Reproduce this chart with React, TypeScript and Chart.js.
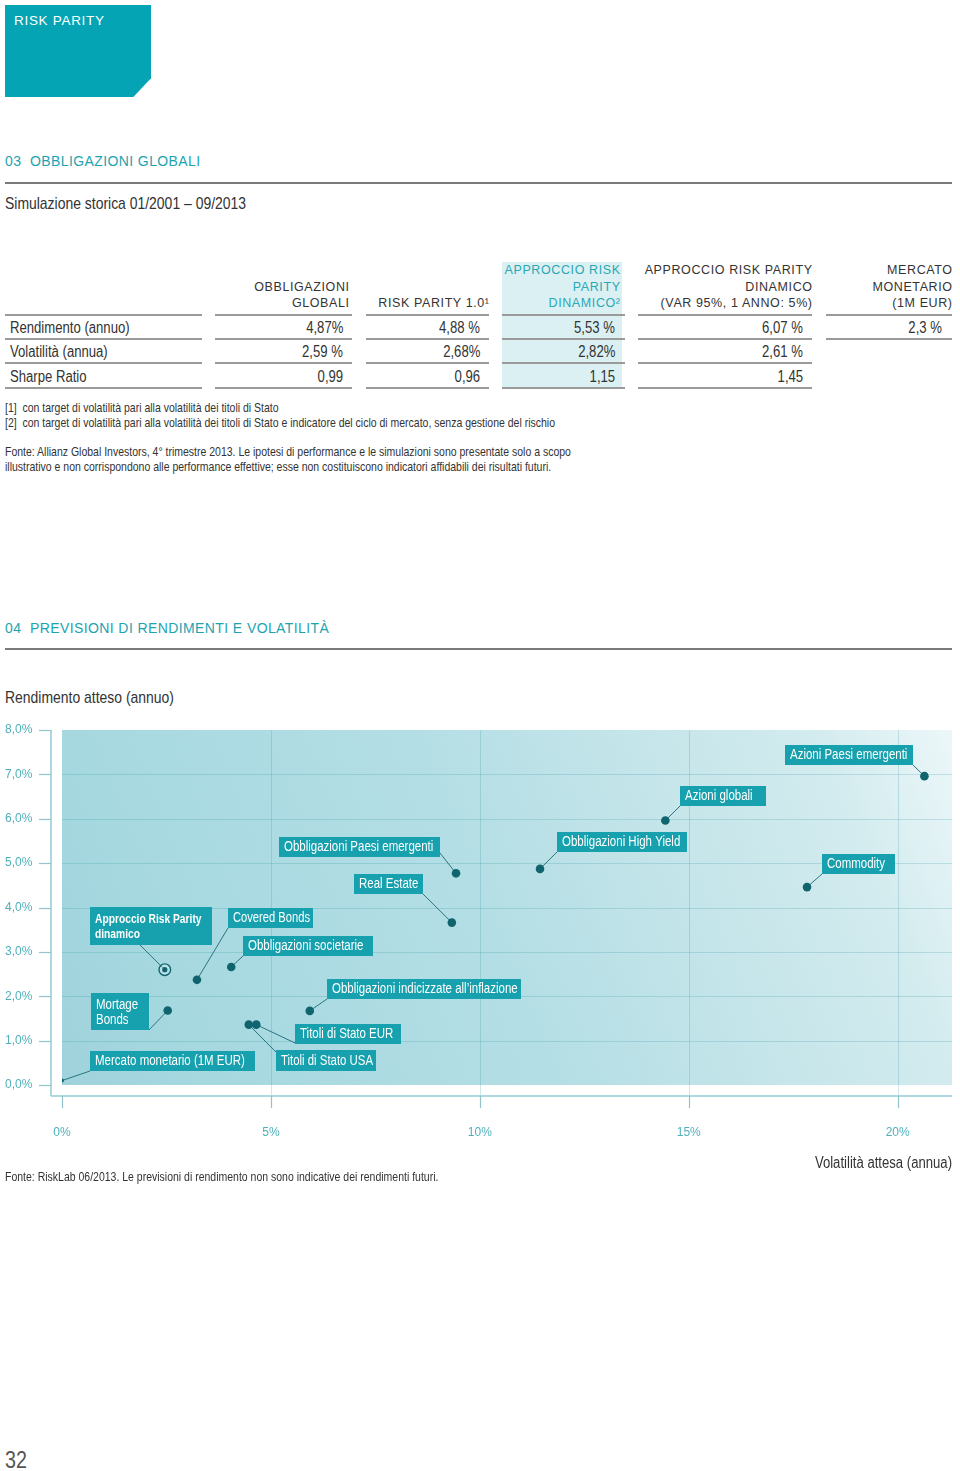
import React, { useEffect, useRef } from "react";
import { Chart, registerables } from "chart.js";

Chart.register(...registerables);

// ---------------- DATA ----------------
const assetNames = [
  "Mercato monetario (1M EUR)",
  "Approccio Risk Parity dinamico",
  "Mortage Bonds",
  "Covered Bonds",
  "Obbligazioni societarie",
  "Titoli di Stato USA",
  "Titoli di Stato EUR",
  "Obbligazioni indicizzate all’inflazione",
  "Real Estate",
  "Obbligazioni Paesi emergenti",
  "Obbligazioni High Yield",
  "Azioni globali",
  "Commodity",
  "Azioni Paesi emergenti",
];
const assetVolatility = [0.0, 2.46, 2.53, 3.23, 4.05, 4.47, 4.65, 5.93, 9.33, 9.43, 11.44, 14.44, 17.83, 20.64];
const assetReturn = [0.1, 2.6, 1.68, 2.37, 2.66, 1.36, 1.36, 1.67, 3.66, 4.77, 4.87, 5.96, 4.46, 6.96];
const assetLabelLines: string[][] = [
  ["Mercato monetario (1M EUR)"],
  ["Approccio Risk Parity", "dinamico"],
  ["Mortage", "Bonds"],
  ["Covered Bonds"],
  ["Obbligazioni societarie"],
  ["Titoli di Stato USA"],
  ["Titoli di Stato EUR"],
  ["Obbligazioni indicizzate all’inflazione"],
  ["Real Estate"],
  ["Obbligazioni Paesi emergenti"],
  ["Obbligazioni High Yield"],
  ["Azioni globali"],
  ["Commodity"],
  ["Azioni Paesi emergenti"],
];
const highlightedAsset = "Approccio Risk Parity dinamico";
const smallAsset = "Mercato monetario (1M EUR)";

const xTickValues = [0, 5, 10, 15, 20];
const yTickValues = [0, 1, 2, 3, 4, 5, 6, 7, 8];
const xMin = 0;
const xMax = 21.3;
const yMin = 0;
const yMax = 8;
const xAxisTitle = "Volatilità attesa (annua)";
const yAxisTitle = "Rendimento atteso (annuo)";

const tableHeaders: string[][] = [
  ["OBBLIGAZIONI", "GLOBALI"],
  ["RISK PARITY 1.0¹"],
  ["APPROCCIO RISK", "PARITY", "DINAMICO²"],
  ["APPROCCIO RISK PARITY", "DINAMICO", "(VAR 95%, 1 ANNO: 5%)"],
  ["MERCATO", "MONETARIO", "(1M EUR)"],
];
const tableRowLabels = ["Rendimento (annuo)", "Volatilità (annua)", "Sharpe Ratio"];
const rendimentoAnnuo = ["4,87%", "4,88 %", "5,53 %", "6,07 %", "2,3 %"];
const volatilitaAnnua = ["2,59 %", "2,68%", "2,82%", "2,61 %", ""];
const sharpeRatio = ["0,99", "0,96", "1,15", "1,45", ""];
const tableValues = [rendimentoAnnuo, volatilitaAnnua, sharpeRatio];

const footnotes = [
  "[1]  con target di volatilità pari alla volatilità dei titoli di Stato",
  "[2]  con target di volatilità pari alla volatilità dei titoli di Stato e indicatore del ciclo di mercato, senza gestione del rischio",
];
const sourceTable = [
  "Fonte: Allianz Global Investors, 4° trimestre 2013. Le ipotesi di performance e le simulazioni sono presentate solo a scopo",
  "illustrativo e non corrispondono alle performance effettive; esse non costituiscono indicatori affidabili dei risultati futuri.",
];
const sourceChart = "Fonte: RiskLab 06/2013. Le previsioni di rendimento non sono indicative dei rendimenti futuri.";

// ---------------- LAYOUT / STYLE ----------------
const SANS = "'Liberation Sans', Arial, sans-serif";
const NARROW_SCALE = 0.82;
const TEAL = "#1ea3b0";
const DOT = "#10646e";
const BOX = "#17a0ad";

// label box offsets relative to the point pixel: dx, dy, w, h, leader anchor fraction ax, ay
const labelLayout = [
  [28, -30, 165, 20, 0, 1],
  [-75, -63, 122, 38, 0.41, 1],
  [-77, -17, 58, 37, 1, 1],
  [31, -72, 85, 20, 0, 1],
  [12, -31, 130, 20, 0, 1],
  [27, 25, 100, 21, 0, 0.1],
  [39, -1, 106, 20, 0, 0.95],
  [17, -32, 194, 20, 0, 1],
  [-98, -49, 69, 20, 1, 1],
  [-177, -36, 161, 20, 1, 0.8],
  [17, -37, 130, 20, 0, 1],
  [15, -35, 86, 20, 0, 1],
  [15, -33, 73, 20, 0, 1],
  [-139, -31, 128, 20, 1, 1],
];

function narrowText(ctx: CanvasRenderingContext2D, text: string, x: number, y: number, maxW?: number) {
  ctx.save();
  ctx.translate(x, y);
  let s = NARROW_SCALE;
  if (maxW) {
    const w = ctx.measureText(text).width * s;
    if (w > maxW) s = (s * maxW) / w;
  }
  ctx.scale(s, 1);
  ctx.fillText(text, 0, 0);
  ctx.restore();
}

const chartPlugin = {
  id: "decor",
  beforeDatasetsDraw(chart: any) {
    const { ctx, chartArea: ca, scales } = chart;
    const xs = scales.x;
    const ys = scales.y;
    ctx.save();
    const g = ctx.createLinearGradient(ca.left, ca.bottom, ca.right, ca.top);
    g.addColorStop(0, "#9fd2db");
    g.addColorStop(0.14, "#a6d8e0");
    g.addColorStop(0.48, "#b4dee5");
    g.addColorStop(0.86, "#d2ebee");
    g.addColorStop(1, "#ecf7f9");
    ctx.fillStyle = g;
    ctx.fillRect(ca.left, ca.top, ca.right - ca.left, ca.bottom - ca.top);

    const line = (x1: number, y1: number, x2: number, y2: number) => {
      ctx.beginPath();
      ctx.moveTo(x1, y1);
      ctx.lineTo(x2, y2);
      ctx.stroke();
    };
    const axisX = ca.left - 11;
    const axisY = ca.bottom + 11;

    ctx.strokeStyle = "rgba(40,145,160,0.22)";
    ctx.lineWidth = 1;
    yTickValues.forEach((v) => {
      if (v === yMin || v === yMax) return;
      const y = Math.round(ys.getPixelForValue(v)) + 0.5;
      line(ca.left, y, ca.right, y);
    });
    xTickValues.forEach((v) => {
      if (v === xMin) return;
      const x = Math.round(xs.getPixelForValue(v)) + 0.5;
      line(x, ca.top, x, axisY);
    });

    // detached axes
    ctx.strokeStyle = "#8fcdd4";
    ctx.lineWidth = 1.5;
    line(axisX, ca.top, axisX, axisY);
    line(axisX, axisY, ca.right, axisY);
    ctx.strokeStyle = "#93c2c8";
    ctx.lineWidth = 1.2;
    yTickValues.forEach((v) => {
      const y = Math.round(ys.getPixelForValue(v)) + 0.5;
      line(axisX - 12, y, axisX, y);
    });
    xTickValues.forEach((v) => {
      const x = Math.round(xs.getPixelForValue(v)) + 0.5;
      line(x, axisY, x, axisY + 12);
    });

    // leader lines
    ctx.strokeStyle = "#2b7680";
    ctx.lineWidth = 1;
    assetNames.forEach((_, i) => {
      const px = xs.getPixelForValue(assetVolatility[i]);
      const py = ys.getPixelForValue(assetReturn[i]);
      const [dx, dy, w, h, ax, ay] = labelLayout[i];
      const bx = Math.round(px + dx);
      const by = Math.round(py + dy);
      line(bx + w * ax, by + h * ay, px, py);
    });
    ctx.restore();
  },
  afterDatasetsDraw(chart: any) {
    const { ctx, scales, chartArea: ca } = chart;
    const xs = scales.x;
    const ys = scales.y;
    ctx.save();
    assetNames.forEach((name, i) => {
      const px = xs.getPixelForValue(assetVolatility[i]);
      const py = ys.getPixelForValue(assetReturn[i]);
      const [dx, dy, w, h] = labelLayout[i];
      const bx = Math.round(px + dx);
      const by = Math.round(py + dy);
      ctx.fillStyle = BOX;
      ctx.fillRect(bx, by, w, h);
      ctx.fillStyle = "#ffffff";
      ctx.textBaseline = "middle";
      ctx.textAlign = "left";
      const bold = name === highlightedAsset;
      ctx.font = bold ? `bold 12.5px ${SANS}` : `14px ${SANS}`;
      const lines = assetLabelLines[i];
      if (lines.length === 1) {
        narrowText(ctx, lines[0], bx + 5, by + h / 2 + 0.5, w - 8);
      } else {
        lines.forEach((t, k) => narrowText(ctx, t, bx + 5, by + 12.5 + k * 14.8, w - 8));
      }
    });
    // x axis title
    ctx.fillStyle = "#333";
    ctx.font = `16px ${SANS}`;
    ctx.textAlign = "right";
    ctx.textBaseline = "middle";
    narrowText(ctx, xAxisTitle, ca.right, ca.bottom + 79);
    ctx.restore();
  },
};

function Txt(props: {
  x: number;
  y: number;
  size: number;
  children: React.ReactNode;
  color?: string;
  right?: boolean;
  ls?: number;
  weight?: number;
  narrow?: boolean;
}) {
  const { x, y, size, children, color = "#333", right = false, ls = 0, weight = 400, narrow = true } = props;
  const lh = Math.round(size * 1.25);
  const style: React.CSSProperties = {
    position: "absolute",
    top: y - lh / 2,
    lineHeight: lh + "px",
    fontSize: size,
    fontFamily: SANS,
    color,
    letterSpacing: ls,
    fontWeight: weight,
    whiteSpace: "pre",
  };
  if (right) {
    style.right = 960 - x - ls;
    style.textAlign = "right";
  } else {
    style.left = x;
  }
  const inner: React.CSSProperties = {
    display: "inline-block",
    transform: narrow ? `scaleX(${NARROW_SCALE})` : undefined,
    transformOrigin: right ? "right center" : "left center",
  };
  return (
    <div style={style}>
      <span style={inner}>{children}</span>
    </div>
  );
}

function Rule(props: { x1: number; x2: number; y: number; color?: string; h?: number }) {
  const { x1, x2, y, color = "#9a9a9a", h = 2 } = props;
  return (
    <div style={{ position: "absolute", left: x1, top: y - h / 2, width: x2 - x1, height: h, background: color }} />
  );
}

const colLayout = [
  { ul: [215, 352], hr: 349, vr: 343 },
  { ul: [366, 489], hr: 489, vr: 480 },
  { ul: [502, 625], hr: 620, vr: 615 },
  { ul: [638, 812], hr: 812, vr: 803 },
  { ul: [826, 952], hr: 952, vr: 942 },
];
const highlightCol = 2;
const headerLineY = [270, 287, 303];
const rowY = [328, 352, 377];
const rowUl = [339, 363, 388];
const headerUl = 315;

function DataTable() {
  const items: React.ReactNode[] = [];
  items.push(
    <div key="hl" style={{ position: "absolute", left: 502, top: 262, width: 120, height: 126, background: "#daf0f3" }} />
  );
  items.push(<Rule key="lh" x1={5} x2={202} y={headerUl} />);
  tableRowLabels.forEach((lab, r) => {
    items.push(
      <Txt key={"lab" + r} x={10} y={rowY[r]} size={16}>
        {lab}
      </Txt>
    );
    items.push(<Rule key={"lu" + r} x1={5} x2={202} y={rowUl[r]} />);
  });
  tableHeaders.forEach((lines, c) => {
    const L = colLayout[c];
    const n = lines.length;
    lines.forEach((t, k) => {
      items.push(
        <Txt
          key={`h${c}_${k}`}
          x={L.hr}
          y={headerLineY[3 - n + k]}
          size={12.5}
          narrow={false}
          ls={0.6}
          right
          color={c === highlightCol ? "#2aa7b3" : "#333"}
        >
          {t}
        </Txt>
      );
    });
    items.push(<Rule key={"hu" + c} x1={L.ul[0]} x2={L.ul[1]} y={headerUl} />);
    tableValues.forEach((row, r) => {
      if (!row[c]) return;
      items.push(
        <Txt key={`v${c}_${r}`} x={L.vr} y={rowY[r]} size={16} right>
          {row[c]}
        </Txt>
      );
      items.push(<Rule key={`vu${c}_${r}`} x1={L.ul[0]} x2={L.ul[1]} y={rowUl[r]} />);
    });
  });
  return <>{items}</>;
}

function ScatterChart() {
  const ref = useRef<HTMLCanvasElement | null>(null);
  useEffect(() => {
    if (!ref.current) return;
    const points = assetNames.map((_, i) => ({ x: assetVolatility[i], y: assetReturn[i] }));
    const radii = assetNames.map((n) => (n === smallAsset ? 2 : n === highlightedAsset ? 2.6 : 4.3));
    const hi = assetNames.indexOf(highlightedAsset);
    const chart = new Chart(ref.current, {
      type: "scatter",
      data: {
        datasets: [
          {
            label: "Asset",
            data: points,
            pointRadius: radii,
            pointHoverRadius: radii,
            pointBackgroundColor: DOT,
            pointBorderWidth: 0,
            pointBorderColor: DOT,
          },
          {
            label: highlightedAsset,
            data: [points[hi]],
            pointRadius: 5.8,
            pointHoverRadius: 5.8,
            pointBackgroundColor: "rgba(255,255,255,0.25)",
            pointBorderColor: DOT,
            pointBorderWidth: 1.4,
          },
        ],
      },
      options: {
        animation: false,
        responsive: false,
        maintainAspectRatio: false,
        events: [],
        layout: { padding: { left: 5, right: 8, top: 30, bottom: 0 } },
        plugins: { legend: { display: false }, tooltip: { enabled: false } },
        scales: {
          x: {
            type: "linear",
            min: xMin,
            max: xMax,
            afterBuildTicks: (s: any) => {
              s.ticks = xTickValues.map((v) => ({ value: v }));
            },
            afterFit: (s: any) => {
              s.height = 90;
            },
            grid: { display: false, drawTicks: false },
            border: { display: false },
            ticks: {
              padding: 40,
              color: "#4fb0ba",
              font: { family: SANS, size: 12 },
              callback: (v: any) => `${v}%`,
            },
          },
          y: {
            type: "linear",
            min: yMin,
            max: yMax,
            afterBuildTicks: (s: any) => {
              s.ticks = yTickValues.map((v) => ({ value: v }));
            },
            afterFit: (s: any) => {
              s.width = 57;
            },
            grid: { display: false, drawTicks: false },
            border: { display: false },
            ticks: {
              crossAlign: "far",
              color: "#4fb0ba",
              font: { family: SANS, size: 12 },
              callback: (v: any) => `${Number(v).toFixed(1).replace(".", ",")}%`,
            },
          },
        },
      },
      plugins: [chartPlugin],
    } as any);
    return () => chart.destroy();
  }, []);
  return (
    <canvas
      ref={ref}
      width={960}
      height={475}
      style={{ position: "absolute", left: 0, top: 700, width: 960, height: 475 }}
    />
  );
}

export default function App() {
  return (
    <div
      style={{
        position: "absolute",
        left: 0,
        top: 0,
        width: 960,
        height: 1471,
        background: "#fff",
        overflow: "hidden",
      }}
    >
      <div
        style={{
          position: "absolute",
          left: 5,
          top: 5,
          width: 146,
          height: 92,
          background: "#05a4b4",
          clipPath: "polygon(0 0, 100% 0, 100% 79.7%, 87.9% 100%, 0 100%)",
        }}
      />
      <Txt x={14} y={20} size={13.5} narrow={false} color="#fff" ls={0.7}>
        RISK PARITY
      </Txt>

      <Txt x={5} y={161} size={14} narrow={false} color={TEAL} ls={0.4}>
        {"03  OBBLIGAZIONI GLOBALI"}
      </Txt>
      <Rule x1={5} x2={952} y={182.5} color="#7a7a7a" />
      <Txt x={5} y={203} size={17}>
        Simulazione storica 01/2001 – 09/2013
      </Txt>

      <DataTable />

      {footnotes.map((t, i) => (
        <Txt key={"fn" + i} x={5} y={408 + i * 15} size={12.8}>
          {t}
        </Txt>
      ))}
      {sourceTable.map((t, i) => (
        <Txt key={"st" + i} x={5} y={452 + i * 15} size={12.8}>
          {t}
        </Txt>
      ))}

      <Txt x={5} y={628} size={14} narrow={false} color={TEAL} ls={0.4}>
        {"04  PREVISIONI DI RENDIMENTI E VOLATILITÀ"}
      </Txt>
      <Rule x1={5} x2={952} y={648.5} color="#7a7a7a" />
      <Txt x={5} y={697} size={17}>
        {yAxisTitle}
      </Txt>

      <ScatterChart />

      <Txt x={5} y={1177} size={12.8}>
        {sourceChart}
      </Txt>

      <Txt x={5} y={1460} size={24} color="#555">
        32
      </Txt>
    </div>
  );
}
